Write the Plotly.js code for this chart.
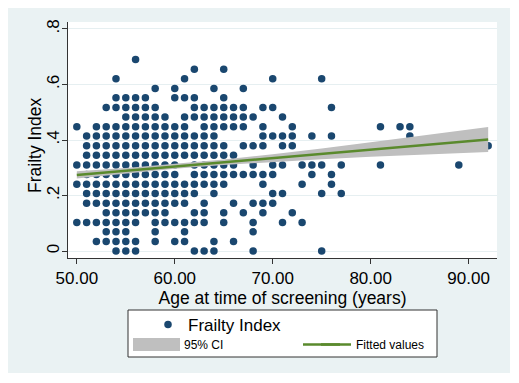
<!DOCTYPE html>
<html>
<head>
<meta charset="utf-8">
<script src="https://cdn.plot.ly/plotly-3.0.1.min.js"></script>
<style>
  html, body { margin: 0; padding: 0; background: #ffffff; width: 519px; height: 383px; overflow: hidden; }
  #chart { position: absolute; left: 8px; top: 8px; width: 502px; height: 365px; }
</style>
</head>
<body>
<div id="chart"></div>
<script>
// Frailty Index levels (y values) and the ages (x values) observed at each level
const fiLevels = [0, 0.034, 0.069, 0.103, 0.138, 0.172, 0.207, 0.241, 0.276, 0.310, 0.345,
                  0.379, 0.414, 0.448, 0.483, 0.517, 0.552, 0.586, 0.621, 0.655, 0.690];

const agesFi00 = [54, 55, 56, 62, 63, 64, 68, 75];
const agesFi01 = [52, 53, 54, 55, 56, 58, 60, 61, 64, 66];
const agesFi02 = [53, 54, 55, 58, 61, 68];
const agesFi03 = [50, 51, 52, 53, 54, 55, 56, 58, 59, 60, 61, 62, 63, 65, 68, 71, 73];
const agesFi04 = [53, 54, 55, 56, 57, 58, 59, 62, 63, 65, 67, 69, 72];
const agesFi05 = [51, 52, 53, 54, 55, 56, 57, 58, 59, 60, 61, 63, 66, 68, 69, 70];
const agesFi06 = [51, 52, 53, 54, 55, 56, 57, 58, 59, 60, 61, 62, 64, 70, 71, 75, 77];
const agesFi07 = [50, 51, 52, 53, 54, 55, 56, 57, 58, 59, 60, 61, 62, 63, 64, 65, 69, 73, 76];
const agesFi08 = [51, 52, 53, 54, 55, 56, 57, 58, 59, 60, 62, 63, 64, 65, 66, 67, 68, 69, 70, 74, 76];
const agesFi09 = [50, 51, 52, 53, 54, 55, 56, 57, 58, 59, 60, 62, 63, 64, 65, 66, 68, 70, 71, 73, 74, 75, 77, 81, 89];
const agesFi10 = [51, 52, 53, 54, 55, 56, 57, 58, 59, 60, 61, 62, 63, 64, 65, 66];
const agesFi11 = [51, 52, 53, 54, 55, 56, 57, 58, 59, 60, 61, 62, 63, 64, 65, 67, 68, 69, 71, 72, 92];
const agesFi12 = [51, 52, 53, 54, 55, 56, 57, 58, 59, 60, 61, 62, 63, 64, 69, 70, 71, 72, 74, 76, 84];
const agesFi13 = [50, 52, 53, 54, 55, 56, 57, 58, 59, 60, 61, 63, 64, 65, 66, 67, 69, 72, 81, 83, 84];
const agesFi14 = [55, 56, 57, 58, 59, 61, 62, 63, 64, 65, 66, 67, 68, 71];
const agesFi15 = [53, 54, 55, 56, 57, 58, 62, 63, 64, 65, 66, 67, 69, 70, 76];
const agesFi16 = [54, 55, 56, 57, 60, 61, 62, 65];
const agesFi17 = [58, 60, 64, 67];
const agesFi18 = [54, 61, 70, 75];
const agesFi19 = [62, 65];
const agesFi20 = [56];

const agesByLevel = [agesFi00, agesFi01, agesFi02, agesFi03, agesFi04, agesFi05, agesFi06,
                     agesFi07, agesFi08, agesFi09, agesFi10, agesFi11, agesFi12, agesFi13,
                     agesFi14, agesFi15, agesFi16, agesFi17, agesFi18, agesFi19, agesFi20];

// Fitted line and 95% CI
const fitAge   = [50, 55, 60, 65, 70, 75, 80, 85, 92];
const fitValue = [0.274, 0.289, 0.305, 0.320, 0.335, 0.350, 0.366, 0.381, 0.402];
const ciLower  = [0.261, 0.279, 0.296, 0.310, 0.321, 0.331, 0.340, 0.348, 0.357];
const ciUpper  = [0.287, 0.299, 0.314, 0.330, 0.349, 0.369, 0.392, 0.414, 0.447];

// Tick labels
const xTickVals = [50, 60, 70, 80, 90];
const xTickText = ['50.00', '60.00', '70.00', '80.00', '90.00'];
const yTickVals = [0, 0.2, 0.4, 0.6, 0.8];
const yTickText = ['0', '.2', '.4', '.6', '.8'];

// Build scatter arrays
const scatterX = [];
const scatterY = [];
agesByLevel.forEach((ages, i) => {
  ages.forEach(a => { scatterX.push(a); scatterY.push(fiLevels[i]); });
});

const FONT = 'Liberation Sans, Arial, sans-serif';
const CI_GRAY = '#bfbfbf';
const FIT_GREEN = '#5a8a2d';

// plot-area pixel helpers (plot area: x 68..497, y 22..258 in page px)
const px = X => (X - 68) / 429;
const py = Y => (258 - Y) / 236;

const traces = [
  {
    type: 'scatter', mode: 'markers', name: 'Frailty Index',
    x: scatterX, y: scatterY,
    marker: { color: '#1a476f', size: 7.5 },
    legend: 'legend', hoverinfo: 'skip'
  },
  {
    type: 'scatter', mode: 'lines', name: '95% CI',
    x: fitAge.concat(fitAge.slice().reverse()),
    y: ciUpper.concat(ciLower.slice().reverse()),
    fill: 'toself', fillcolor: CI_GRAY,
    line: { width: 0, color: CI_GRAY },
    legend: 'legend2', hoverinfo: 'skip'
  },
  {
    type: 'scatter', mode: 'lines', name: 'Fitted values',
    x: fitAge, y: fitValue,
    line: { color: FIT_GREEN, width: 2.5 },
    legend: 'legend3', hoverinfo: 'skip'
  }
];

const layout = {
  width: 502, height: 365,
  margin: { l: 60, r: 13, t: 14, b: 115, pad: 0 },
  paper_bgcolor: '#eaf2f3',
  plot_bgcolor: '#ffffff',
  font: { family: FONT, color: '#000000', size: 17 },
  showlegend: true,
  xaxis: {
    range: [49.1, 92.9],
    tickmode: 'array', tickvals: xTickVals, ticktext: xTickText,
    ticks: 'outside', ticklen: 5, tickcolor: '#333333', tickwidth: 1,
    showline: true, linecolor: '#333333', linewidth: 1,
    showgrid: false, zeroline: false,
    tickfont: { family: FONT, size: 17, color: '#000000' },
    title: { text: 'Age at time of screening (years)', font: { family: FONT, size: 17.5, color: '#000000' }, standoff: 1 }
  },
  yaxis: {
    range: [-0.0252, 0.8252],
    tickmode: 'array', tickvals: yTickVals, ticktext: yTickText,
    tickangle: -90,
    ticks: 'outside', ticklen: 5, tickcolor: '#333333', tickwidth: 1,
    ticklabelstandoff: -4,
    showline: true, linecolor: '#333333', linewidth: 1,
    showgrid: true, gridcolor: '#e6eff1', gridwidth: 1,
    zeroline: false,
    tickfont: { family: FONT, size: 17, color: '#000000' }
  },
  annotations: [
    {
      text: 'Frailty Index', textangle: -90,
      xref: 'paper', yref: 'paper', x: px(35), y: py(145),
      xanchor: 'center', yanchor: 'middle', showarrow: false,
      font: { family: FONT, size: 17.5, color: '#000000' }
    }
  ],
  legend: {
    x: px(148), y: py(325), xanchor: 'left', yanchor: 'middle',
    bgcolor: 'rgba(0,0,0,0)', borderwidth: 0,
    font: { family: FONT, size: 17, color: '#000000' }
  },
  legend2: {
    x: px(144), y: py(344.5), xanchor: 'left', yanchor: 'middle',
    bgcolor: 'rgba(0,0,0,0)', borderwidth: 0,
    font: { family: FONT, size: 12, color: '#000000' }
  },
  legend3: {
    x: px(316), y: py(344.5), xanchor: 'left', yanchor: 'middle',
    bgcolor: 'rgba(0,0,0,0)', borderwidth: 0,
    font: { family: FONT, size: 12, color: '#000000' }
  },
  shapes: [
    {
      type: 'rect', xref: 'paper', yref: 'paper',
      x0: px(128), x1: px(437), y0: py(310), y1: py(357),
      line: { color: '#333333', width: 1 }, fillcolor: '#ffffff', layer: 'above'
    },
    {
      type: 'rect', xref: 'paper', yref: 'paper',
      x0: px(133), x1: px(180), y0: py(338), y1: py(351),
      line: { width: 0 }, fillcolor: CI_GRAY, layer: 'above'
    },
    {
      type: 'line', xref: 'paper', yref: 'paper',
      x0: px(303), x1: px(340), y0: py(344.5), y1: py(344.5),
      line: { color: FIT_GREEN, width: 2.5 }, layer: 'above'
    }
  ]
};

Plotly.newPlot('chart', traces, layout, { staticPlot: true, displayModeBar: false });
</script>
</body>
</html>
